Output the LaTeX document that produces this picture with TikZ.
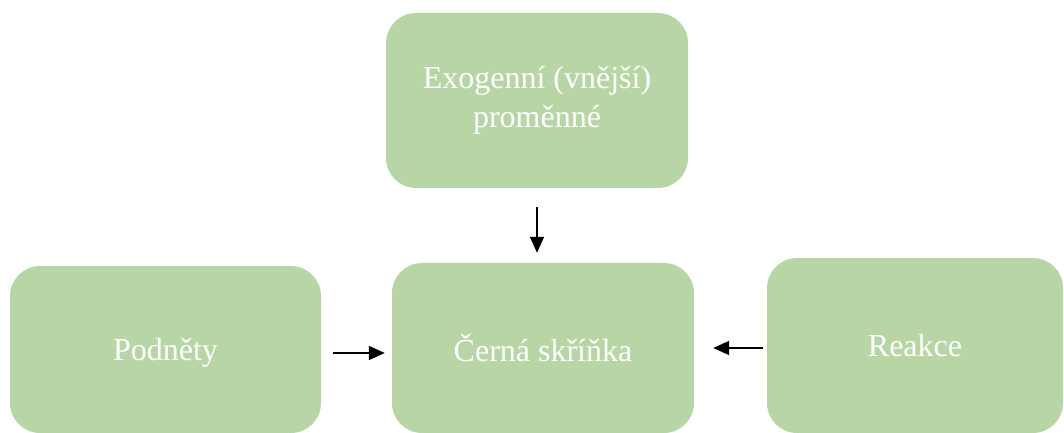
\documentclass[tikz,border=0pt]{standalone}
\usepackage{fontspec}
\setmainfont{Liberation Serif}
\usetikzlibrary{arrows.meta}
\definecolor{boxgreen}{RGB}{184,214,165}
\tikzset{
  gbox/.style={fill=boxgreen, draw=none, rounded corners=30pt, inner sep=0pt,
    text=white, align=center, font=\fontsize{32}{39}\selectfont},
  arr/.style={line width=1.7pt, -{Triangle[length=16pt,width=14pt]}}
}
\begin{document}
\begin{tikzpicture}[x=1pt,y=1pt]
\useasboundingbox (0,0) rectangle (1064,433);
\node[gbox, text depth=0pt, minimum width=311pt, minimum height=167pt] (lft) at (165.5,83.5) {Podněty};
\node[gbox, minimum width=302pt, minimum height=175pt] (top) at (537,332.5) {Exogenní (vnější)\\proměnné};
\node[gbox, text depth=0pt, minimum width=302pt, minimum height=170pt] (cen) at (543,85) {Černá skříňka};
\node[gbox, text depth=0pt, minimum width=296pt, minimum height=175pt] (rgt) at (915,87.5) {Reakce};
\draw[arr, shorten <=19pt, shorten >=10pt] (top.south) -- (top.south |- cen.north);
\draw[arr, shorten <=12pt, shorten >=7pt] ([yshift=-3.5pt]lft.east) -- ([yshift=-3.5pt]lft.east -| cen.west);
\draw[arr, shorten <=4pt, shorten >=19pt] ([yshift=-2.5pt]rgt.west) -- ([yshift=-2.5pt]rgt.west -| cen.east);
\end{tikzpicture}
\end{document}
